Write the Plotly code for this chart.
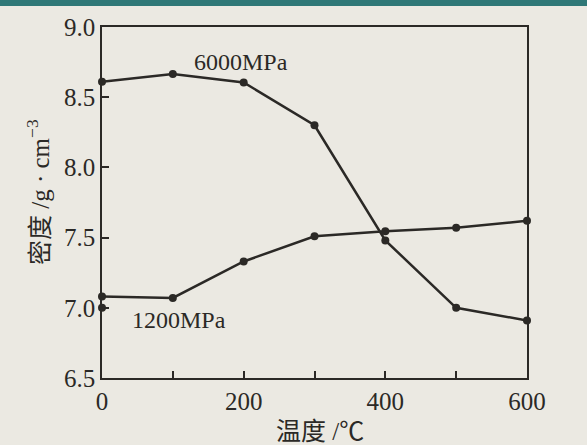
import plotly.graph_objects as go

temps = [0, 100, 200, 300, 400, 500, 600]
dens_6000 = [8.61, 8.665, 8.605, 8.30, 7.48, 7.00, 6.91]
dens_1200 = [7.08, 7.07, 7.33, 7.51, 7.545, 7.57, 7.62]
extra_x = [0]
extra_y = [7.0]
x_ticks = [0, 200, 400, 600]
x_labels = ["0", "200", "400", "600"]
x_minor_ticks = [100, 300, 500]
y_ticks = [6.5, 7.0, 7.5, 8.0, 8.5, 9.0]
y_labels = ["6.5", "7.0", "7.5", "8.0", "8.5", "9.0"]

ink = "#2b2926"
bg = "#ebe9e2"
serif = "Liberation Serif, Times New Roman, serif"
cjk = "Liberation Serif, Noto Sans CJK SC, serif"

fig = go.Figure()
for ys in (dens_6000, dens_1200):
    fig.add_trace(go.Scatter(x=temps, y=ys, mode="lines+markers",
                             line=dict(color=ink, width=2.5),
                             marker=dict(color=ink, size=8),
                             showlegend=False, cliponaxis=False))
fig.add_trace(go.Scatter(x=extra_x, y=extra_y, mode="markers",
                         marker=dict(color=ink, size=8),
                         showlegend=False, cliponaxis=False))

fig.update_layout(
    width=587, height=445,
    margin=dict(l=102, r=60, t=27, b=67),
    paper_bgcolor=bg, plot_bgcolor=bg,
    font=dict(family=serif, color=ink, size=25),
    xaxis=dict(range=[0, 600], tickvals=x_ticks, ticktext=x_labels,
               ticks="inside", ticklen=7, tickwidth=1.5, tickcolor=ink,
               minor=dict(tickvals=x_minor_ticks, ticks="inside", ticklen=7,
                          tickwidth=1.5, tickcolor=ink, showgrid=False),
               showline=True, linecolor=ink, linewidth=1.5, mirror=True,
               showgrid=False, zeroline=False,
               tickfont=dict(family=serif, size=25, color=ink)),
    yaxis=dict(range=[6.5, 9.0], tickvals=y_ticks, ticktext=y_labels,
               ticks="inside", ticklen=7, tickwidth=1.5, tickcolor=ink,
               showline=True, linecolor=ink, linewidth=1.5, mirror=True,
               showgrid=False, zeroline=False,
               tickfont=dict(family=serif, size=25, color=ink)),
    shapes=[dict(type="rect", xref="paper", yref="paper",
                 x0=-102/425, x1=1+60/425, y0=1+21/351, y1=1+27/351,
                 fillcolor="#2f7877", line=dict(width=0), layer="above")],
    annotations=[
        dict(x=196, y=8.75, xref="x", yref="y", text="6000MPa", showarrow=False,
             font=dict(family=serif, size=24, color=ink)),
        dict(x=109, y=6.91, xref="x", yref="y", text="1200MPa", showarrow=False,
             font=dict(family=serif, size=24, color=ink)),
        dict(x=(320-102)/425, y=-(416-378)/351, xref="paper", yref="paper",
             xanchor="center", yanchor="top",
             text="温度 /℃", showarrow=False,
             font=dict(family=cjk, size=25, color=ink)),
        dict(x=(38-102)/425, y=(378-192)/351, xref="paper", yref="paper",
             xanchor="center", yanchor="middle",
             text="密度 /g · cm<sup>−3</sup>", textangle=-90, showarrow=False,
             font=dict(family=cjk, size=25, color=ink)),
    ],
)

fig.write_html("out.html", config={"displayModeBar": False},
               post_script="document.body.style.margin='0px';")
